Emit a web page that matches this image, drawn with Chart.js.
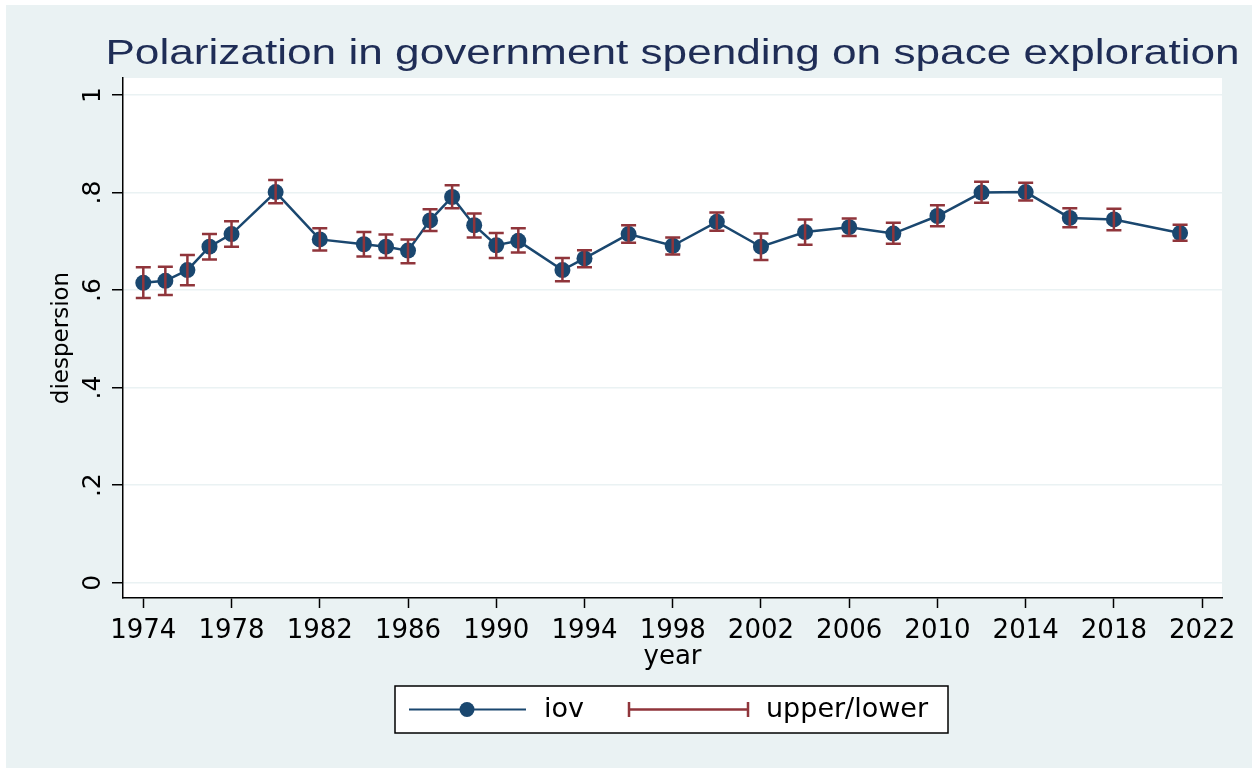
<!DOCTYPE html>
<html>
<head>
<meta charset="utf-8">
<script src="https://cdn.jsdelivr.net/npm/chart.js@4/dist/chart.umd.min.js"></script>
<style>
  body { margin: 0; background: #fff; }
</style>
</head>
<body>
<canvas id="chart" width="1252" height="768"></canvas>
<script>
const years = [1974, 1975, 1976, 1977, 1978, 1980, 1982, 1984, 1985, 1986, 1987, 1988, 1989, 1990, 1991,
    1993, 1994, 1996, 1998, 2000, 2002, 2004, 2006, 2008, 2010, 2012, 2014, 2016, 2018, 2021];
const iov = [0.615, 0.619, 0.641, 0.689, 0.715, 0.801, 0.704, 0.694, 0.689, 0.681, 0.743, 0.791, 0.733, 0.692, 0.701,
    0.641, 0.665, 0.715, 0.691, 0.740, 0.689, 0.719, 0.729, 0.716, 0.752, 0.800, 0.801, 0.748, 0.745, 0.717];
const upper = [0.647, 0.648, 0.672, 0.715, 0.741, 0.826, 0.727, 0.719, 0.714, 0.704, 0.766, 0.815, 0.757, 0.717, 0.727,
    0.666, 0.682, 0.733, 0.708, 0.759, 0.716, 0.745, 0.747, 0.738, 0.774, 0.822, 0.820, 0.768, 0.767, 0.734];
const lower = [0.584, 0.590, 0.610, 0.663, 0.689, 0.778, 0.681, 0.669, 0.666, 0.655, 0.721, 0.768, 0.708, 0.666, 0.677,
    0.618, 0.647, 0.697, 0.673, 0.722, 0.662, 0.693, 0.711, 0.695, 0.731, 0.779, 0.784, 0.729, 0.723, 0.701];

const xTicks = [1974, 1978, 1982, 1986, 1990, 1994, 1998, 2002, 2006, 2010, 2014, 2018, 2022];
const yTicks = [0, 0.2, 0.4, 0.6, 0.8, 1];
const yTickLabels = ['0', '.2', '.4', '.6', '.8', '1'];

const TITLE = 'Polarization in government spending on space exploration';
const FONT = 'DejaVu Sans';
const NAVY = '#1a476f';
const CRANBERRY = '#90353b';
const BG = '#eaf2f3';

// stata-like background: outer light blue, white plot region
const background = {
    id: 'background',
    beforeDraw(chart) {
        const ctx = chart.ctx;
        const a = chart.chartArea;
        ctx.save();
        ctx.fillStyle = '#fff';
        ctx.fillRect(0, 0, chart.width, chart.height);
        ctx.fillStyle = BG;
        ctx.fillRect(6, 5, chart.width - 6, chart.height - 5);
        ctx.fillStyle = '#fff';
        ctx.fillRect(a.left, a.top, a.right - a.left, a.bottom - a.top);
        ctx.restore();
    }
};

// the original title is wider than the font, so stretch it
const wideTitle = {
    id: 'wideTitle',
    afterDraw(chart) {
        const ctx = chart.ctx;
        const a = chart.chartArea;
        ctx.save();
        ctx.translate((a.left + a.right) / 2, 64);
        ctx.scale(1.28, 1);
        ctx.fillStyle = '#1f2d56';
        ctx.font = '34.5px "Liberation Sans"';
        ctx.textAlign = 'center';
        ctx.textBaseline = 'alphabetic';
        ctx.fillText(TITLE, 0, 0);
        ctx.restore();
    }
};

// capped spikes for upper/lower, drawn over the markers
const errorBars = {
    id: 'errorBars',
    afterDatasetsDraw(chart) {
        const ctx = chart.ctx;
        const xs = chart.scales.x;
        const ys = chart.scales.y;
        ctx.save();
        ctx.strokeStyle = CRANBERRY;
        ctx.lineWidth = 2.5;
        years.forEach((yr, i) => {
            const x = xs.getPixelForValue(yr);
            const y1 = ys.getPixelForValue(upper[i]);
            const y2 = ys.getPixelForValue(lower[i]);
            ctx.beginPath();
            ctx.moveTo(x, y1);
            ctx.lineTo(x, y2);
            ctx.moveTo(x - 7.5, y1);
            ctx.lineTo(x + 7.5, y1);
            ctx.moveTo(x - 7.5, y2);
            ctx.lineTo(x + 7.5, y2);
            ctx.stroke();
        });
        ctx.restore();
    }
};

// boxed legend under the x axis
const boxLegend = {
    id: 'boxLegend',
    afterDraw(chart) {
        const ctx = chart.ctx;
        const cy = 709.5;
        ctx.save();
        ctx.fillStyle = '#fff';
        ctx.fillRect(395, 686, 553, 47);
        ctx.strokeStyle = '#000';
        ctx.lineWidth = 1.5;
        ctx.strokeRect(395, 686, 553, 47);

        ctx.strokeStyle = NAVY;
        ctx.lineWidth = 2;
        ctx.beginPath();
        ctx.moveTo(409, cy);
        ctx.lineTo(526, cy);
        ctx.stroke();
        ctx.fillStyle = NAVY;
        ctx.beginPath();
        ctx.arc(467, cy, 7.5, 0, Math.PI * 2);
        ctx.fill();

        ctx.strokeStyle = CRANBERRY;
        ctx.lineWidth = 2.5;
        ctx.beginPath();
        ctx.moveTo(629, cy);
        ctx.lineTo(748, cy);
        ctx.moveTo(629, cy - 7.5);
        ctx.lineTo(629, cy + 7.5);
        ctx.moveTo(748, cy - 7.5);
        ctx.lineTo(748, cy + 7.5);
        ctx.stroke();

        ctx.fillStyle = '#000';
        ctx.font = '27px "' + FONT + '"';
        ctx.textBaseline = 'middle';
        ctx.fillText('iov', 544, cy);
        ctx.fillText('upper/lower', 766, cy);
        ctx.restore();
    }
};

new Chart(document.getElementById('chart'), {
    type: 'line',
    data: {
        datasets: [
            {
                label: 'iov',
                data: years.map((yr, i) => ({ x: yr, y: iov[i] })),
                borderColor: NAVY,
                borderWidth: 2.5,
                pointRadius: 8,
                pointBackgroundColor: NAVY,
                pointBorderWidth: 0,
                tension: 0
            }
        ]
    },
    options: {
        responsive: false,
        animation: false,
        devicePixelRatio: 1,
        layout: { padding: { left: 0, top: 78, right: 30, bottom: 90 } },
        plugins: {
            legend: { display: false },
            tooltip: { enabled: false },
            title: { display: false }
        },
        scales: {
            x: {
                type: 'linear',
                position: 'bottom',
                min: 1973.08,
                max: 2022.9,
                afterBuildTicks: s => { s.ticks = xTicks.map(v => ({ value: v })); },
                afterFit: s => { s.height = 80; },
                grid: { drawOnChartArea: false, tickLength: 10, tickColor: '#000', tickWidth: 1.5 },
                border: { color: '#000', width: 1.5 },
                ticks: {
                    color: '#000',
                    font: { family: FONT, size: 26 },
                    padding: 8,
                    autoSkip: false,
                    maxRotation: 0,
                    callback: v => String(v)
                },
                title: {
                    display: true,
                    text: 'year',
                    color: '#000',
                    font: { family: FONT, size: 26 },
                    padding: { top: 0, bottom: 5 }
                }
            },
            y: {
                min: -0.0314,
                max: 1.035,
                afterBuildTicks: s => { s.ticks = yTicks.map(v => ({ value: v })); },
                afterFit: s => { s.width = 123; },
                grid: { color: BG, lineWidth: 1.5, tickLength: 11, tickColor: '#000', tickWidth: 1.5 },
                border: { color: '#000', width: 1.5 },
                ticks: {
                    color: '#000',
                    font: { family: FONT, size: 25 },
                    minRotation: 90,
                    maxRotation: 90,
                    crossAlign: 'center',
                    padding: 7,
                    callback: (v, i) => yTickLabels[i]
                },
                title: {
                    display: true,
                    text: 'diespersion',
                    color: '#000',
                    font: { family: FONT, size: 23 },
                    padding: { top: 48, bottom: 0 }
                }
            }
        }
    },
    plugins: [background, wideTitle, errorBars, boxLegend]
});
</script>
</body>
</html>
